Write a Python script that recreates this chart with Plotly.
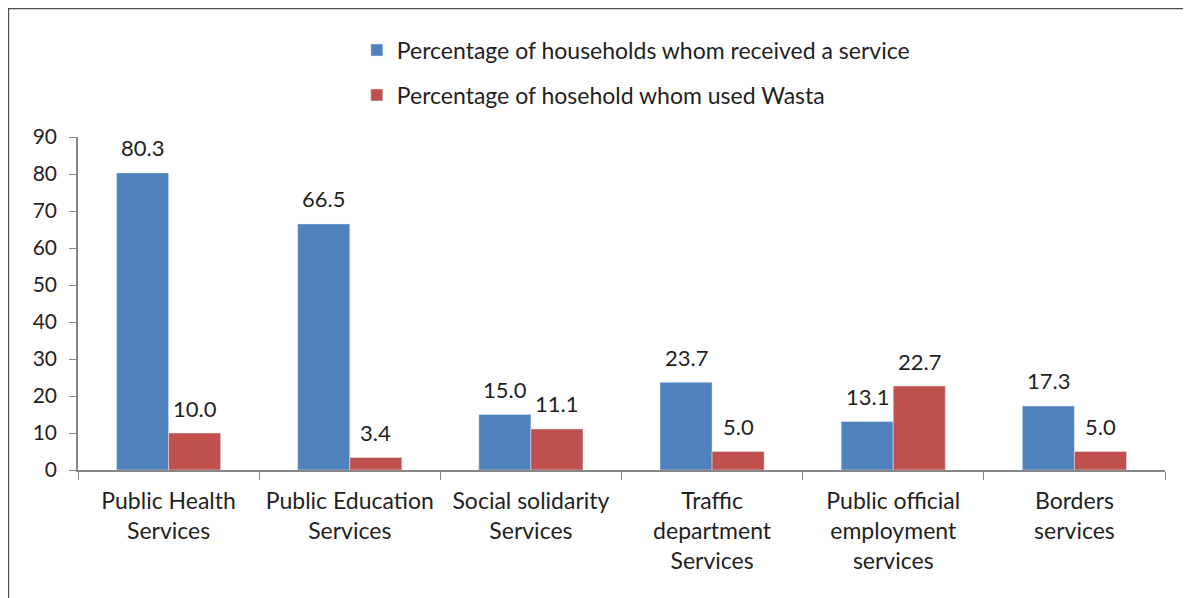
import plotly.graph_objects as go

categories = [
    "Public Health<br>Services",
    "Public Education<br>Services",
    "Social solidarity<br>Services",
    "Traffic<br>department<br>Services",
    "Public official<br>employment<br>services",
    "Borders<br>services",
]
received_service = [80.3, 66.5, 15.0, 23.7, 13.1, 17.3]
used_wasta = [10.0, 3.4, 11.1, 5.0, 22.7, 5.0]

series_names = [
    "Percentage of households whom received a service",
    "Percentage of hosehold whom used Wasta",
]

FONT = "Lato"
TEXT = "#1f1f1f"
AXIS = "#868686"

fig = go.Figure()

fig.add_trace(go.Bar(
    x=categories,
    y=received_service,
    name=series_names[0],
    marker=dict(color="#4F81BD"),
    showlegend=True,
    legend="legend",
))

fig.add_trace(go.Bar(
    x=categories,
    y=used_wasta,
    name=series_names[1],
    marker=dict(color="#C0504D"),
    showlegend=True,
    legend="legend2",
))

# value labels sit a bit higher above the bars than plotly's outside text
annotations = []
for values, dx in [(received_service, -26), (used_wasta, 26)]:
    for cat, v in zip(categories, values):
        annotations.append(dict(
            x=cat, y=v, xref="x", yref="y",
            text=f"{v:.1f}",
            showarrow=False,
            xshift=dx, yshift=25,
            yanchor="middle",
            font=dict(family=FONT, size=22, color=TEXT),
        ))

legend_style = dict(
    xanchor="left",
    yanchor="middle",
    font=dict(family=FONT, size=23, color=TEXT),
    bgcolor="rgba(0,0,0,0)",
    itemwidth=30,
)

fig.update_layout(
    width=1183,
    height=590,
    barmode="group",
    bargap=0.425,
    bargroupgap=0,
    plot_bgcolor="white",
    paper_bgcolor="white",
    margin=dict(l=70, r=26, t=129, b=128),
    legend=dict(x=0.2565, y=1.261, **legend_style),
    legend2=dict(x=0.2565, y=1.126, **legend_style),
    annotations=annotations,
    xaxis=dict(
        showline=True,
        linecolor=AXIS,
        linewidth=1.5,
        ticks="outside",
        tickson="boundaries",
        ticklen=8,
        tickcolor=AXIS,
        ticklabelstandoff=10,
        tickfont=dict(family=FONT, size=23, color=TEXT),
        showgrid=False,
    ),
    yaxis=dict(
        range=[0, 90],
        dtick=10,
        showline=True,
        linecolor=AXIS,
        linewidth=1.5,
        ticks="outside",
        ticklen=7,
        tickcolor=AXIS,
        ticklabelstandoff=8,
        tickfont=dict(family=FONT, size=21, color=TEXT),
        showgrid=False,
        zeroline=False,
    ),
    shapes=[dict(
        type="rect",
        xref="paper",
        yref="paper",
        x0=-0.064,
        x1=1.2,
        y0=-0.4,
        y1=1.386,
        line=dict(color="#4d4d4d", width=1.5),
        layer="below",
    )],
)

fig.write_html("out.html")
